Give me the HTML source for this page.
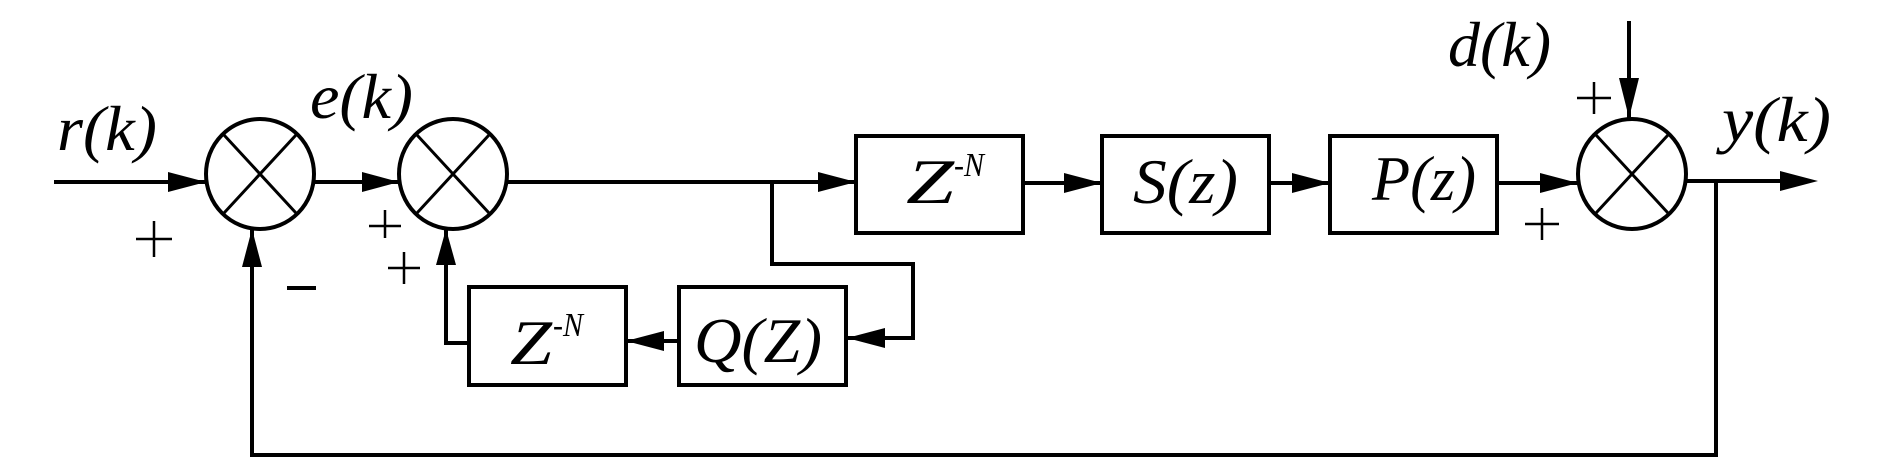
<!DOCTYPE html>
<html><head><meta charset="utf-8"><style>html,body{margin:0;padding:0;background:#fff}svg{display:block}</style></head>
<body>
<svg width="1890" height="472" viewBox="0 0 1890 472" xmlns="http://www.w3.org/2000/svg">
<defs>
<marker id="a" viewBox="0 0 10 10" refX="10" refY="5" markerWidth="10" markerHeight="10" markerUnits="userSpaceOnUse" orient="auto">
</marker>
</defs>
<g fill="none" stroke="#000" stroke-width="4">
<!-- circles -->
<ellipse cx="260" cy="174" rx="54" ry="55"/>
<ellipse cx="453" cy="174" rx="54" ry="55"/>
<ellipse cx="1632" cy="174" rx="54" ry="55"/>
<path d="M224 135 L296 213 M296 135 L224 213" stroke-width="3"/>
<path d="M417 135 L489 213 M489 135 L417 213" stroke-width="3"/>
<path d="M1596 135 L1668 213 M1668 135 L1596 213" stroke-width="3"/>
<!-- boxes -->
<rect x="856" y="136" width="167" height="97"/>
<rect x="1102" y="136" width="167" height="97"/>
<rect x="1330" y="136" width="167" height="97"/>
<rect x="469" y="287" width="157" height="98"/>
<rect x="679" y="287" width="167" height="98"/>
<!-- lines -->
<path d="M54 182 H206"/>
<path d="M314 182 H399"/>
<path d="M507 182 H856"/>
<path d="M772 182 V264 H913 V338 H847"/>
<path d="M679 341 H626"/>
<path d="M469 343 H446 V229"/>
<path d="M252 229 V455 H1716 V181"/>
<path d="M1023 183 H1102"/>
<path d="M1269 183 H1330"/>
<path d="M1497 183 H1578"/>
<path d="M1686 181 H1810"/>
<path d="M1629 21 V118"/>
<!-- pluses -->
<path d="M136 239 H172 M154 221 V257" stroke-width="2.5"/>
<path d="M287 288 H316" stroke-width="4"/>
<path d="M369 226 H401 M385 210 V238" stroke-width="2.5"/>
<path d="M388 268 H420 M404 252 V284" stroke-width="2.5"/>
<path d="M1577 98 H1611 M1594 82 V114" stroke-width="2.5"/>
<path d="M1525 224 H1559 M1542 208 V240" stroke-width="2.5"/>
</g>
<g fill="#000">
<polygon points="206,182 168,172 168,192"/>
<polygon points="399,182 362,172 362,192"/>
<polygon points="856,182 818,172 818,192"/>
<polygon points="847,338 885,328 885,348"/>
<polygon points="626,341 664,331 664,351"/>
<polygon points="446,229 436,265 456,265"/>
<polygon points="252,229 242,267 262,267"/>
<polygon points="1102,183 1064,173 1064,193"/>
<polygon points="1330,183 1292,173 1292,193"/>
<polygon points="1578,183 1540,173 1540,193"/>
<polygon points="1818,181 1780,171 1780,191"/>
<polygon points="1629,118 1619,78 1639,78"/>
</g>
<g font-family="Liberation Serif, serif" font-style="italic" font-size="64" fill="#000">
<text x="57" y="150" textLength="100" lengthAdjust="spacingAndGlyphs">r(k)</text>
<text x="310" y="118" textLength="103" lengthAdjust="spacingAndGlyphs">e(k)</text>
<text x="1448" y="66" textLength="103" lengthAdjust="spacingAndGlyphs">d(k)</text>
<text x="1722" y="141" textLength="109" lengthAdjust="spacingAndGlyphs">y(k)</text>
<text x="906" y="203" textLength="48" lengthAdjust="spacingAndGlyphs">Z</text>
<text x="954" y="176" font-size="34" textLength="30" lengthAdjust="spacingAndGlyphs">-N</text>
<text x="1133" y="203" textLength="105" lengthAdjust="spacingAndGlyphs">S(z)</text>
<text x="1372" y="200" textLength="104" lengthAdjust="spacingAndGlyphs">P(z)</text>
<text x="510" y="364" textLength="42" lengthAdjust="spacingAndGlyphs">Z</text>
<text x="553" y="336" font-size="34" textLength="30" lengthAdjust="spacingAndGlyphs">-N</text>
<text x="694" y="362" textLength="128" lengthAdjust="spacingAndGlyphs">Q(Z)</text>
</g>
</svg>
</body></html>
